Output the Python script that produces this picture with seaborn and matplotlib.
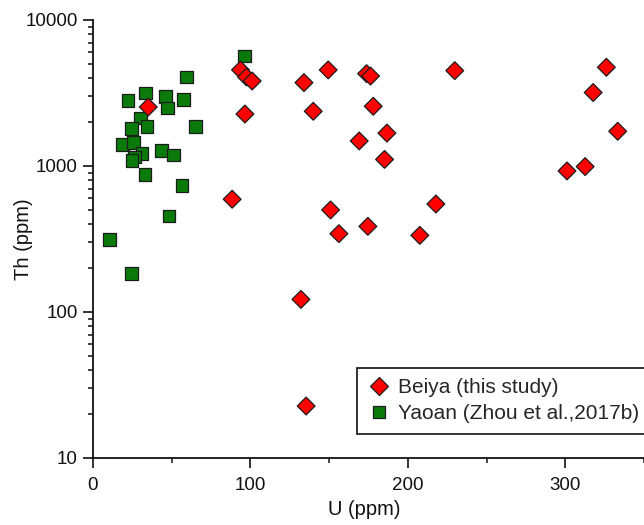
import matplotlib
matplotlib.use("Agg")
import matplotlib.pyplot as plt
from matplotlib.ticker import LogLocator, FuncFormatter, NullFormatter, MultipleLocator
import seaborn as sns
import pandas as pd

# Beiya samples (this study): U and Th in ppm
beiya_u = [35.1, 93.7, 97.5, 101.1, 96.5, 88.4, 134.0, 149.4, 173.8, 176.3,
           139.9, 178.0, 229.8, 186.7, 169.1, 185.2, 150.9, 156.2, 174.6, 207.6,
           217.8, 326.1, 317.7, 333.3, 301.1, 312.6, 132.1, 135.4]
beiya_th = [2535, 4550, 4070, 3820, 2270, 592, 3725, 4550, 4290, 4130,
            2370, 2565, 4500, 1680, 1485, 1110, 500, 344, 386, 335,
            549, 4745, 3186, 1729, 925, 991, 122, 22.7]

# Yaoan samples (Zhou et al., 2017b)
yaoan_u = [96.3, 59.4, 33.4, 22.2, 46.1, 57.5, 47.4, 30.0, 34.3, 24.3,
           65.0, 18.6, 25.8, 31.1, 43.4, 51.0, 26.2, 24.7, 33.0, 56.5,
           48.2, 10.6, 24.3]
yaoan_th = [5670, 4060, 3160, 2820, 3000, 2850, 2500, 2130, 1870, 1800,
            1860, 1400, 1450, 1215, 1280, 1190, 1150, 1095, 877, 735,
            455, 315, 183]

group_names = ["Beiya (this study)", "Yaoan (Zhou et al.,2017b)"]
group_colors = ["#ff0000", "#0a7a0a"]
group_markers = ["D", "s"]

x_ticks = [0, 100, 200, 300]
y_ticks = [10, 100, 1000, 10000]

# Yaoan rows first so the Beiya diamonds sit on top
df = pd.concat([
    pd.DataFrame({"U": yaoan_u, "Th": yaoan_th, "group": group_names[1]}),
    pd.DataFrame({"U": beiya_u, "Th": beiya_th, "group": group_names[0]}),
], ignore_index=True)

sns.set_style("ticks")
plt.rcParams["font.family"] = ["Liberation Sans", "DejaVu Sans"]

fig = plt.figure(figsize=(6.44, 5.25), dpi=100)
ax = fig.add_axes([93 / 644, 1 - 458 / 525, 1 - 93 / 644, (458 - 20) / 525])

sns.scatterplot(
    data=df, x="U", y="Th", hue="group", style="group",
    hue_order=group_names, style_order=group_names,
    palette=dict(zip(group_names, group_colors)),
    markers=dict(zip(group_names, group_markers)),
    s=82, edgecolor="#1c1c1c", linewidth=0.9, ax=ax, legend=True,
)

ax.set_yscale("log")
ax.set_xlim(0, 350)
ax.set_ylim(10, 10000)

ax.set_xticks(x_ticks)
ax.xaxis.set_minor_locator(MultipleLocator(50))
ax.yaxis.set_major_locator(LogLocator(base=10, numticks=10))
ax.yaxis.set_minor_locator(LogLocator(base=10, subs=range(2, 10), numticks=20))
ax.yaxis.set_major_formatter(FuncFormatter(lambda v, _: f"{v:g}"))
ax.yaxis.set_minor_formatter(NullFormatter())
ax.set_yticks(y_ticks)

for side in ("top", "right"):
    ax.spines[side].set_visible(False)
for side in ("left", "bottom"):
    ax.spines[side].set_linewidth(1.3)
    ax.spines[side].set_color("#111111")

ax.tick_params(axis="both", which="major", direction="out", length=7,
               width=1.2, labelsize=13.5, color="#111111", labelcolor="#111111")
ax.tick_params(axis="both", which="minor", direction="out", length=3.5,
               width=1.1, color="#111111")
ax.tick_params(axis="x", which="major", pad=7)
ax.tick_params(axis="y", which="major", pad=4)

ax.set_xlabel("U (ppm)", fontsize=14.5, color="#111111")
ax.set_ylabel("Th (ppm)", fontsize=14.5, color="#111111")
ax.xaxis.set_label_coords(0.492, -0.097)
ax.yaxis.set_label_coords(-0.108, 0.5)

sns.move_legend(
    ax, loc="upper left", bbox_to_anchor=(357 / 644, 1 - 368 / 525),
    bbox_transform=fig.transFigure, borderaxespad=0, title=None,
    frameon=True, fancybox=False, framealpha=1, edgecolor="#111111",
    fontsize=15, handletextpad=0.35, borderpad=0.5, labelspacing=0.32,
    handlelength=1.1,
)
ax.get_legend().get_frame().set_linewidth(1.2)

fig.savefig("out.png", dpi=100, facecolor="white")
